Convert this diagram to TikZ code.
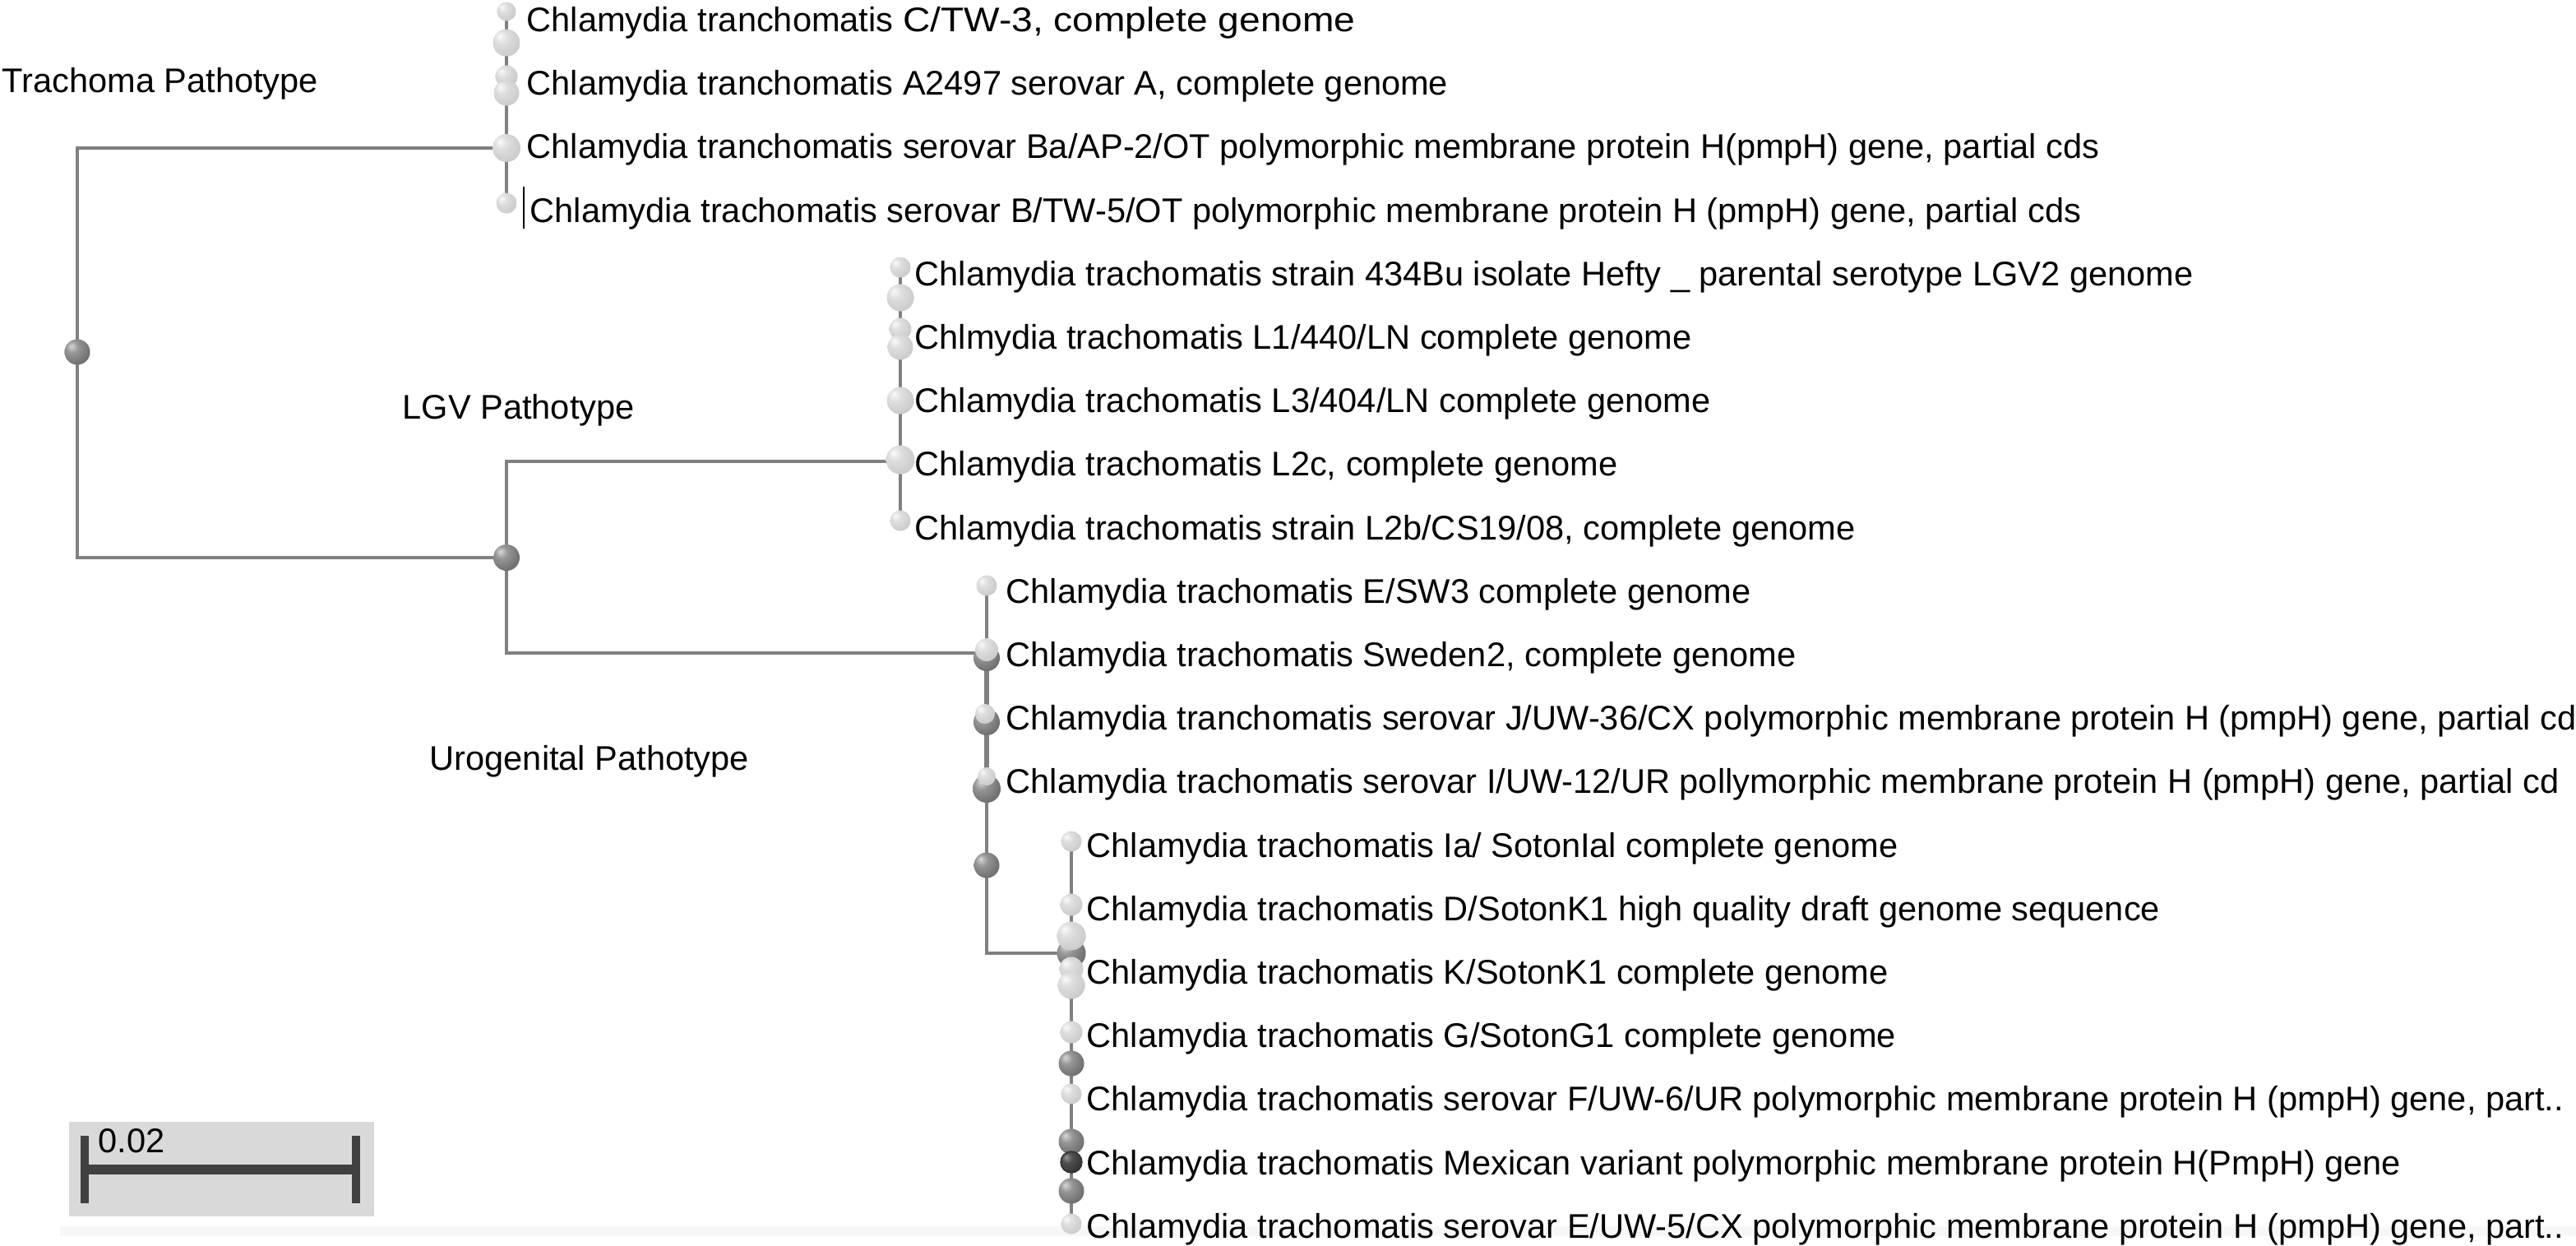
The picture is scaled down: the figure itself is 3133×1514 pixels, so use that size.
\documentclass[tikz,border=0pt]{standalone}
\usepackage{fontspec}
\usepackage{graphicx}
\setmainfont{Liberation Sans}
\definecolor{edgec}{RGB}{128,128,128}
\definecolor{lbA}{RGB}{250,250,250}
\definecolor{lbB}{RGB}{222,222,222}
\definecolor{lbC}{RGB}{200,200,200}
\definecolor{lbD}{RGB}{170,170,170}
\definecolor{dbA}{RGB}{215,215,215}
\definecolor{dbB}{RGB}{150,150,150}
\definecolor{dbC}{RGB}{110,110,110}
\definecolor{dbD}{RGB}{70,70,70}
\definecolor{vbA}{RGB}{150,150,150}
\definecolor{vbB}{RGB}{80,80,80}
\definecolor{vbC}{RGB}{40,40,40}
\definecolor{scalebg}{RGB}{217,217,217}
\definecolor{scalebar}{RGB}{65,65,65}
\pgfdeclareradialshading{lball}{\pgfpoint{-12bp}{12bp}}{color(0bp)=(lbA); color(12bp)=(lbB); color(35bp)=(lbC); color(55bp)=(lbD); color(70bp)=(lbD)}
\pgfdeclareradialshading{dball}{\pgfpoint{-12bp}{12bp}}{color(0bp)=(dbA); color(12bp)=(dbB); color(32bp)=(dbC); color(52bp)=(dbD); color(70bp)=(dbD)}
\pgfdeclareradialshading{vball}{\pgfpoint{-12bp}{12bp}}{color(0bp)=(vbA); color(12bp)=(vbB); color(40bp)=(vbC); color(70bp)=(black)}
\tikzset{
  edge/.style={draw=edgec, line width=1.25pt},
  edgethick/.style={draw=edgec, line width=1.8pt},
  lb/.style={circle, inner sep=0pt, draw=none, shading=lball, minimum size=#1},
  db/.style={circle, inner sep=0pt, draw=none, shading=dball, minimum size=#1},
  vb/.style={circle, inner sep=0pt, draw=black!80, line width=0.4pt, shading=vball, minimum size=#1},
  lab/.style={anchor=base west, inner sep=0pt, font=\fontsize{11.82}{14}\selectfont},
}
\begin{document}
\begin{tikzpicture}[x=0.01cm, y=-0.01cm]
\useasboundingbox (0,0) rectangle (3133,1514);
\clip (0,0) rectangle (3133,1514);
% faint band at the bottom
\fill[black!3] (73,1491) rectangle (3133,1503);
% coordinates of tree nodes
\coordinate (root) at (94,428);
\coordinate (tj) at (616,180);
\coordinate (lu) at (616,678);
\coordinate (lj) at (1095,561);
\coordinate (uj) at (1200,794);
\coordinate (sj) at (1303,1159);
\coordinate (t1) at (616,14);
\coordinate (t6) at (616,247);
\coordinate (l1) at (1095,325);
\coordinate (l7) at (1095,633);
\coordinate (u1) at (1200,712);
\coordinate (u4) at (1200,953);
\coordinate (s1) at (1303,1023);
\coordinate (s13) at (1303,1488);
% edges
\draw[edge] (tj) -| (root) |- (lu);
\draw[edge] (lj) -| (lu) |- (uj);
\draw[edge] (t1) -- (t6);
\draw[edge] (l1) -- (l7);
\draw[edge] (u1) -- (uj);
\draw[edgethick] (uj) -- (u4);
\draw[edge] (u4) |- (sj);
\draw[edge] (s1) -- (s13);
% balls: root and ancestor
\node[db=0.31cm] (nroot) at (root) {};
\node[db=0.32cm] (nlu) at (lu) {};
% trachoma clade
\node[lb=0.23cm] at (t1) {};
\node[lb=0.33cm] at (616,52) {};
\node[lb=0.27cm] at (616,93) {};
\node[lb=0.31cm] at (616,113) {};
\node[lb=0.34cm] (ntj) at (tj) {};
\node[lb=0.25cm] at (t6) {};
% LGV clade
\node[lb=0.25cm] at (l1) {};
\node[lb=0.33cm] at (1095,362) {};
\node[lb=0.27cm] at (1095,400) {};
\node[lb=0.31cm] at (1095,422) {};
\node[lb=0.33cm] at (1095,487) {};
\node[lb=0.35cm] (nlj) at (1095,559) {};
\node[lb=0.25cm] at (l7) {};
% urogenital
\node[lb=0.25cm] at (u1) {};
\node[db=0.32cm] at (1200,800) {};
\node[lb=0.28cm] (nuj) at (1200,790) {};
\node[db=0.32cm] at (1200,878) {};
\node[lb=0.24cm] at (1198,868) {};
\node[db=0.34cm] at (1200,959) {};
\node[lb=0.22cm] at (1200,944) {};
\node[db=0.31cm] at (1200,1052) {};
% subclade
\node[lb=0.25cm] at (s1) {};
\node[lb=0.27cm] at (1303,1100) {};
\node[db=0.35cm] (nsj) at (sj) {};
\node[lb=0.35cm] at (1303,1138) {};
\node[lb=0.29cm] at (1303,1178) {};
\node[lb=0.33cm] at (1303,1198) {};
\node[lb=0.27cm] at (1303,1255) {};
\node[db=0.31cm] at (1303,1293) {};
\node[lb=0.25cm] at (1303,1330) {};
\node[db=0.31cm] at (1303,1388) {};
\node[vb=0.26cm] at (1303,1413) {};
\node[db=0.31cm] at (1303,1448) {};
\node[lb=0.25cm] at (s13) {};
% group labels
\node[lab] (gT) at (2,112) {Trachoma Pathotype};
\node[lab] (gL) at (489,509) {LGV Pathotype};
\node[lab] (gU) at (522,936) {Urogenital Pathotype};
% leaf labels
\node[lab] (lab1) at (640,38) {Chlamydia tranchomatis \scalebox{1.11}[1]{C/TW-3, complete genome}};
\node[lab] (lab2) at (640,115) {Chlamydia tranchomatis A2497 serovar A, complete genome};
\node[lab] (lab3) at (640,192) {Chlamydia tranchomatis serovar Ba/AP-2/OT polymorphic membrane protein H(pmpH) gene, partial cds};
\node[lab] (lab4) at (644,270) {Chlamydia trachomatis serovar B/TW-5/OT polymorphic membrane protein H (pmpH) gene, partial cds};
\draw[black, line width=0.7pt] (637,227) -- (637,278);
\node[lab] (lab5) at (1112,347) {Chlamydia trachomatis strain 434Bu isolate Hefty \_ parental serotype LGV2 genome};
\node[lab] (lab6) at (1112,424) {Chlmydia trachomatis L1/440/LN complete genome};
\node[lab] (lab7) at (1112,501) {Chlamydia trachomatis L3/404/LN complete genome};
\node[lab] (lab8) at (1112,578) {Chlamydia trachomatis L2c, complete genome};
\node[lab] (lab9) at (1112,656) {Chlamydia trachomatis strain L2b/CS19/08, complete genome};
\node[lab] (lab10) at (1223,733) {Chlamydia trachomatis E/SW3 complete genome};
\node[lab] (lab11) at (1223,810) {Chlamydia trachomatis Sweden2, complete genome};
\node[lab] (lab12) at (1223,887) {Chlamydia tranchomatis serovar J/UW-36/CX polymorphic membrane protein H (pmpH) gene, partial cd};
\node[lab] (lab13) at (1223,964) {Chlamydia trachomatis serovar I/UW-12/UR pollymorphic membrane protein H (pmpH) gene, partial cd};
\node[lab] (lab14) at (1321,1042) {Chlamydia trachomatis Ia/ SotonIal complete genome};
\node[lab] (lab15) at (1321,1119) {Chlamydia trachomatis D/SotonK1 high quality draft genome sequence};
\node[lab] (lab16) at (1321,1196) {Chlamydia trachomatis K/SotonK1 complete genome};
\node[lab] (lab17) at (1321,1273) {Chlamydia trachomatis G/SotonG1 complete genome};
\node[lab] (lab18) at (1321,1350) {Chlamydia trachomatis serovar F/UW-6/UR polymorphic membrane protein H (pmpH) gene, part..};
\node[lab] (lab19) at (1321,1428) {Chlamydia trachomatis Mexican variant polymorphic membrane protein H(PmpH) gene};
\node[lab] (lab20) at (1321,1505) {Chlamydia trachomatis serovar E/UW-5/CX polymorphic membrane protein H (pmpH) gene, part..};
% scale bar
\fill[scalebg] (84,1364) rectangle (455,1479);
\coordinate (sbL) at (103,1422);
\coordinate (sbR) at (433,1422);
\draw[scalebar, line width=3.4pt] (sbL) -- (sbR);
\draw[scalebar, line width=2.6pt] ([yshift=0.41cm]sbL) -- ([yshift=-0.41cm]sbL);
\draw[scalebar, line width=2.6pt] ([yshift=0.41cm]sbR) -- ([yshift=-0.41cm]sbR);
\node[lab] (sbt) at (119,1401) {0.02};
\end{tikzpicture}
\end{document}
